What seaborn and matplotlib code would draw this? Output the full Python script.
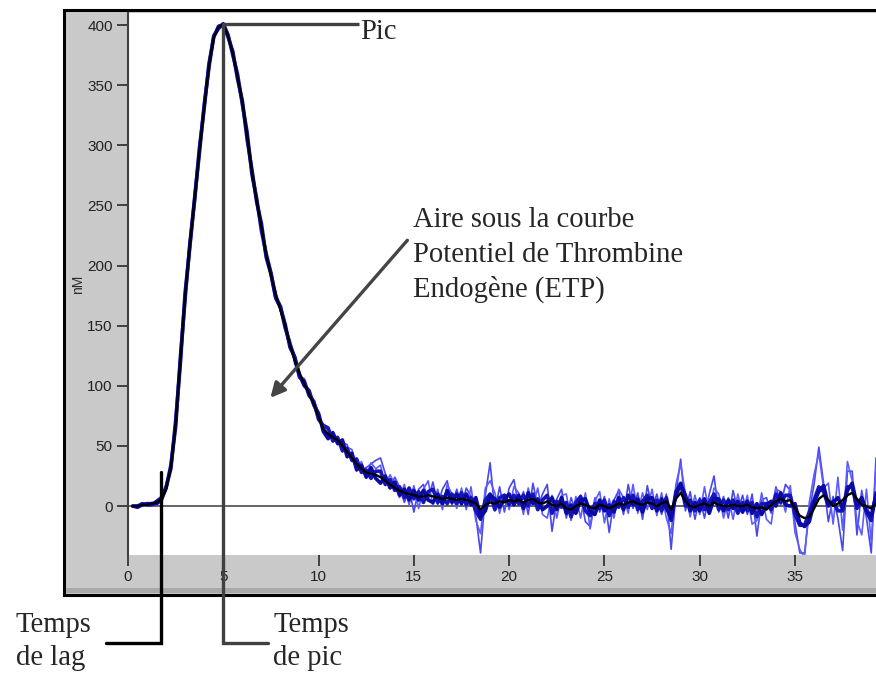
import numpy as np
import pandas as pd
import matplotlib
matplotlib.use("Agg")
import matplotlib.pyplot as plt
from matplotlib.patches import Rectangle
import seaborn as sns

# ---------------------------------------------------------------- data
# sampling times in minutes (one reading every 15 s)
time_min = np.arange(1, 158) * 0.25

# mean thrombin generation curve (nM)
mean_nM = [
    0, 0, 1, 1, 2, 3, 6, 14, 32, 68,
    122, 176, 218, 256, 296, 332, 366, 390, 398, 401,
    391, 376, 357, 336, 308, 278, 254, 232, 209, 192,
    176, 163, 150, 134, 121, 110, 102, 93, 85, 74,
    64, 60, 57, 55, 50, 45, 40, 35, 31, 28,
    27, 26, 24, 21, 18, 15, 13, 11, 10, 9,
    8, 8, 9, 8, 7, 6, 7, 6, 5, 6,
    5, 4, 2, -3, 1, 3, 2, 4, 3, 5,
    4, 5, 3, 5, 6, 3, 2, 4, 1, 0,
    2, -2, -3, 0, 2, 1, -1, -2, 1, 0,
    -2, 0, 2, 1, 3, 4, 2, 1, 3, 2,
    0, 2, 4, -3, 6, 11, 4, 0, -1, 1,
    2, 0, 3, 1, 0, 0, 1, 0, 0, 1,
    -1, -2, -1, -3, 1, 4, 6, 4, 5, -2,
    -8, -10, -9, -2, 6, 9, 5, 0, 2, 5,
    9, 11, 6, 1, 0, -2, 2,
]

# individual wells, as offsets from the mean curve (nM)
well_a_dev = [
    0, 0, 0, 1, 0, 1, 0, -1, 1, -2,
    2, -1, 1, -2, 1, 0, -1, 1, 0, -2,
    1, 0, -1, 2, 0, -2, 3, -1, 2, -1,
    3, 0, -2, 4, -3, 2, -1, 3, -2,
    -3, 4, -2, 5, -4, 3, 6, -3, 5, -2,
    4, 8, 12, 16, 6, -2, 9, 3, -8, 5,
    -14, 6, 10, -4, 12, -6, 8, 14, -5, 9,
    -6, 10, 4, -10, -36, 8, 33, -6, 12, -8,
    10, 18, -5, 9, -12, 13, -4, 8, 14, -22,
    6, 12, -8, 10, -5, 7, -14, -16, 9, -6,
    8, -20, 5, 11, -8, 15, -6, 9, -12, 14,
    -4, 10, -9, 6, -33, 4, 28, -8, 12, -10,
    6, -12, 10, 22, -6, 8, -10, 12, -4, 9,
    -8, 11, -23, 6, 10, -7, 12, -5, 14, 8,
    -12, -31, -29, 4, 20, 43, 10, -18, 8, -12,
    -42, 20, 18, -30, 12, -10, -37, 38,
]
well_b_dev = [
    0, 1, 0, 0, 1, 0, 1, 1, -1, 2,
    -2, 1, -1, 2, -1, 1, 0, -1, 1, 1,
    -1, 1, 0, -2, 1, 2, -2, 1, -2, 2,
    -1, 2, 1, -3, 3, -2, 4, -2, 3,
    4, -3, 5, -2, 3, -5, 4, 7, -4, 6,
    -3, 9, 5, 10, -4, 8, 3, -6, 7, -9,
    8, -10, 6, 12, -8, 7, -9, 11, 4, -7,
    9, -8, 12, -14, -20, 14, 18, 9, -10, 7,
    -8, 12, 6, -10, 10, -6, 12, -9, -14, 8,
    -10, 7, 12, -9, 8, -12, 10, -18, 6, 11,
    -14, 8, -10, 12, 6, -9, 14, -8, 10, -6,
    12, -8, 9, -14, -20, 12, 24, 6, -9, 10,
    -8, 14, -6, 12, 9, -10, 7, -12, 10, -6,
    8, -14, -10, 12, -8, -16, 10, 6, -9, 12,
    -20, -28, -33, 12, 28, 38, 6, 14, -15, 22,
    -25, 28, 10, -18, -25, 14, -28, 30,
]
well_c_dev = [
    0, 0, 1, 0, -1, 1, 1, 2, -1, 3,
    -3, 2, -2, 1, -2, 2, -1, 1, -1, 0,
    1, -1, 2, -2, 3, -2, 2, -3, 1, 2,
    -2, 3, -2, 1, 2, -3, 2, -1, 2,
    -2, 3, 5, -3, 2, -4, 3, -2, 4, -3,
    2, -4, 3, 5, -3, 4, -2, 3, -4, 5,
    -3, 4, -5, 3, 6, -4, 2, -5, 4, -3,
    5, -4, 3, -6, -8, 4, 7, -5, 3, 6,
    -4, 5, -3, 6, -5, 4, -6, 3, 5, -7,
    4, -3, 5, -6, 3, 6, -5, -7, 4, -3,
    5, -6, 4, -3, 6, -4, 5, -5, 3, 6,
    -4, 5, -6, 3, -9, 6, 8, -4, 5, -3,
    4, -5, 3, 7, -4, 5, -3, 4, -6, 3,
    -5, 4, -7, 3, 5, -4, 6, -3, 5, 4,
    -5, -8, -6, 4, 7, 10, 3, -5, 4, -6,
    -9, 7, 5, -8, 4, -5, -10, 9,
]
well_d_dev = [
    0, -1, 0, 1, 0, -1, -1, 1, 2, -2,
    2, -3, 1, -1, 2, -1, 2, 0, 1, -1,
    -1, 2, -2, 1, -3, 2, -1, 3, -2, 1,
    -3, 2, 1, -2, 3, -1, -2, 3, -1,
    3, -2, -4, 4, -3, 5, -4, 4, -5, 3,
    -4, 5, -3, -5, 4, -3, 5, -4, 3, -5,
    4, -3, 5, -4, -5, 3, -4, 6, -3, 5,
    -4, 5, -3, 5, -6, -5, 6, 4, -5, 3,
    5, -3, 4, -5, 6, -4, 3, -5, -4, 6,
    -3, 5, -4, 4, -6, 3, 5, -4, -5, 4,
    -4, 3, -5, 5, -4, 6, -3, 4, -6, 3,
    5, -4, 4, -6, -7, 3, 7, 5, -4, 4,
    -5, 4, -6, 3, 5, -4, 5, -3, 4, -5,
    3, -5, 4, -6, 4, 3, -4, 5, -3, -5,
    4, -6, -7, -4, 5, 6, 8, -4, 3, 5,
    -7, 4, 8, -5, 6, -4, -6, 7,
]

# curve parameters marked on the chart
lag_time = 1.73          # min
x_ticks = [0, 5, 10, 15, 20, 25, 30, 35]
y_ticks = [0, 50, 100, 150, 200, 250, 300, 350, 400]

# ---------------------------------------------------------------- table
mean_arr = np.asarray(mean_nM, dtype=float)
wells = {
    "A": mean_arr + np.asarray(well_a_dev),
    "B": mean_arr + np.asarray(well_b_dev),
    "C": mean_arr + np.asarray(well_c_dev),
    "D": mean_arr + np.asarray(well_d_dev),
    "moyenne": mean_arr,
}
df = pd.concat(
    [pd.DataFrame({"temps": time_min, "thrombine": v, "puits": k})
     for k, v in wells.items()],
    ignore_index=True,
)
peak_idx = int(np.argmax(mean_arr))
peak_time = float(time_min[peak_idx])
peak_value = float(mean_arr[peak_idx])

# ---------------------------------------------------------------- figure
sns.set_style("white")
plt.rcParams["font.family"] = ["Liberation Sans", "DejaVu Sans"]

W, H = 876, 677
fig = plt.figure(figsize=(W / 100, H / 100), dpi=100)
fig.patch.set_facecolor("white")

# grey instrument panel behind the plot
fig.patches.append(Rectangle((64 / W, 1 - 595 / H), 1.0, (595 - 10) / H,
                             transform=fig.transFigure, facecolor="#c9c9c9",
                             edgecolor="black", linewidth=2.2, zorder=-3))
fig.patches.append(Rectangle((66 / W, 1 - 593 / H), 1.0, 5 / H,
                             transform=fig.transFigure, facecolor="#a9a9a9",
                             edgecolor="none", zorder=-2))

ax = fig.add_axes([128 / W, 1 - 555 / H, 1 - 128 / W, (555 - 13) / H])
ax.set_facecolor("white")

palette = {"A": "#4848ee", "B": "#5c5cff", "C": "#1616b8",
           "D": "#0a0aa4", "moyenne": "black"}
sizes = {"A": 1.2, "B": 1.2, "C": 2.6, "D": 2.6, "moyenne": 1.7}
sns.lineplot(data=df, x="temps", y="thrombine", hue="puits", size="puits",
             hue_order=list(wells), size_order=list(wells),
             palette=palette, sizes=sizes, estimator=None, legend=False,
             ax=ax, zorder=3)

ax.axhline(0, color="#3c3c3c", lw=1.1, zorder=2)

ax.set_xlim(0, 39.25)
ax.set_ylim(-40.7, 410)
ax.set_xticks(x_ticks)
ax.set_yticks(y_ticks)
ax.set_xlabel("")
ax.set_ylabel("nM", fontsize=10, color="#2a2a2a")
ax.yaxis.set_label_coords(-0.058, 0.50)

for side in ("top", "right", "bottom"):
    ax.spines[side].set_visible(False)
ax.spines["left"].set_color("#404040")
ax.spines["left"].set_linewidth(1.5)
ax.tick_params(axis="both", direction="out", length=8, width=1.4,
               color="#404040", labelcolor="#222222", labelsize=11, pad=3,
               bottom=True, left=True)

# ---------------------------------------------------------------- annotations
serif = ["Liberation Serif", "DejaVu Serif"]
ann_size = 20.6
below = -114            # level of the leader elbows under the panel

# peak
ax.plot([peak_time, 12.1], [peak_value, peak_value], color="#404040",
        lw=2.4, clip_on=False, zorder=5, solid_capstyle="butt")
ax.text(12.2, peak_value - 12.5, "Pic", family=serif, fontsize=ann_size,
        va="baseline", ha="left")

# time to peak
ax.plot([peak_time, peak_time, 7.37], [peak_value, below, below],
        color="#404040", lw=2.4, clip_on=False, zorder=5,
        solid_joinstyle="miter")
for dy, line in zip([0, 27.5], ["Temps", "de pic"]):
    ax.text(7.63, -104.8 - dy, line, family=serif, fontsize=ann_size,
            va="baseline", ha="left")

# lag time
ax.plot([lag_time, lag_time, -1.18], [28, below, below], color="black",
        lw=2.4, clip_on=False, zorder=5, solid_joinstyle="miter")
for dy, line in zip([0, 27.5], ["Temps", "de lag"]):
    ax.text(-5.9, -104.8 - dy, line, family=serif, fontsize=ann_size,
            va="baseline", ha="left")

# area under the curve (ETP)
etp_lines = ["Aire sous la courbe", "Potentiel de Thrombine", "Endogène (ETP)"]
for k, line in enumerate(etp_lines):
    ax.text(14.97, 232.3 - 29.1 * k, line, family=serif, fontsize=ann_size,
            va="baseline", ha="left")
ax.annotate("", xy=(7.47, 90), xytext=(14.66, 221),
            arrowprops=dict(arrowstyle="-|>", color="#454545", lw=2.4,
                            mutation_scale=22, shrinkA=0, shrinkB=0),
            zorder=6)

fig.savefig("out.png", dpi=100)
